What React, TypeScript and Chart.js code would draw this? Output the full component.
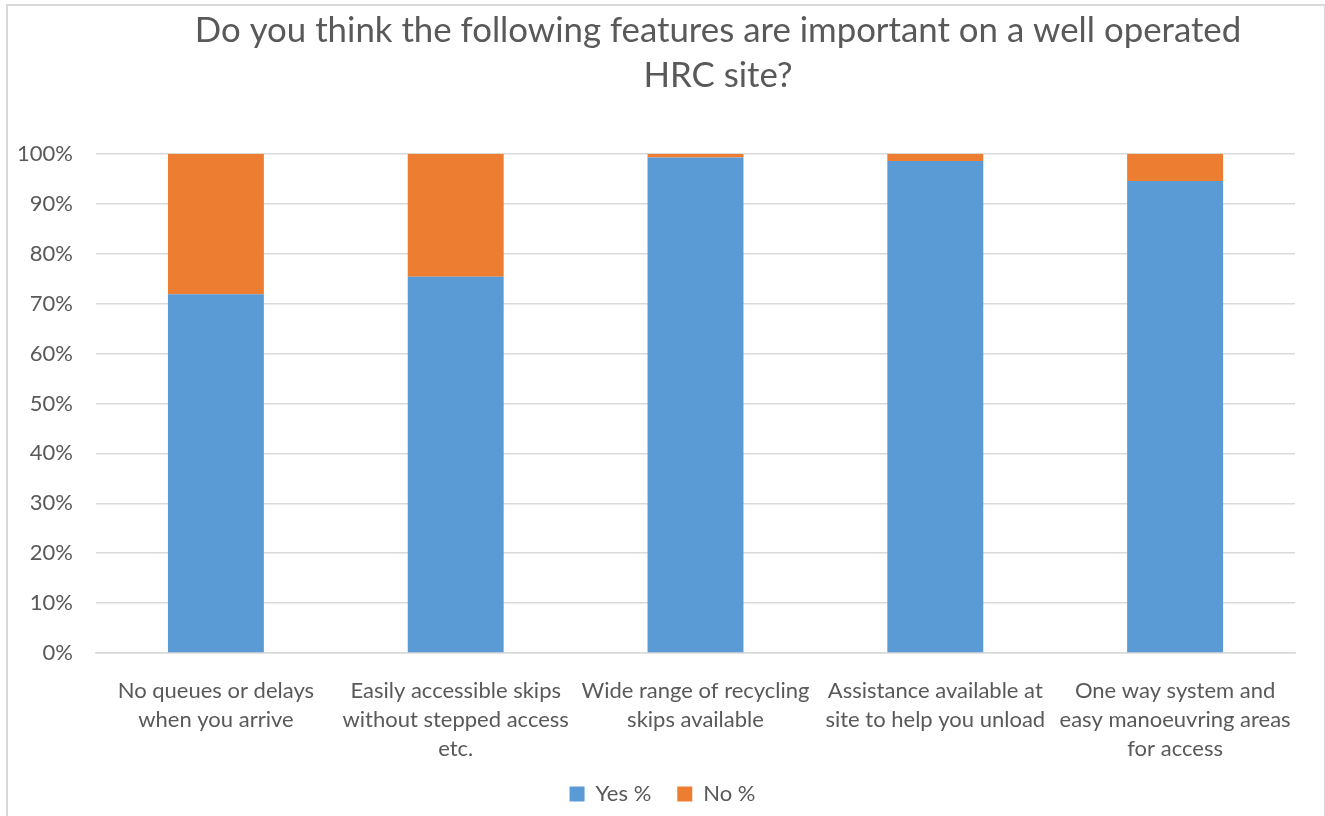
import React, { useEffect, useRef } from "react";
import { Chart, registerables } from "chart.js";

Chart.register(...registerables);

const TITLE_LINES = [
  "Do you think the following features are important on a well operated",
  "HRC site?",
];
const CATEGORIES: string[][] = [
  ["No queues or delays", "when you arrive"],
  ["Easily accessible skips", "without stepped access", "etc."],
  ["Wide range of recycling", "skips available"],
  ["Assistance available at", "site to help you unload"],
  ["One way system and", "easy manoeuvring areas", "for access"],
];
const YES_VALUES = [71.9, 75.4, 99.3, 98.6, 94.6];
const NO_VALUES = [28.1, 24.6, 0.7, 1.4, 5.4];
const SERIES_NAMES = ["Yes %", "No %"];

const FONT = "Lato, 'Open Sans', sans-serif";
const TEXT_COLOR = "#595959";

const titlePlugin = {
  id: "customTitle",
  afterDraw(chart: any) {
    const ctx = chart.ctx;
    ctx.save();
    ctx.fillStyle = TEXT_COLOR;
    ctx.font = `34.8px ${FONT}`;
    ctx.textAlign = "center";
    ctx.textBaseline = "alphabetic";
    ctx.fillText(TITLE_LINES[0], 718, 42);
    ctx.fillText(TITLE_LINES[1], 718, 87);
    ctx.restore();
  },
};

export default function App() {
  const ref = useRef<HTMLCanvasElement>(null);
  useEffect(() => {
    document.body.style.margin = "0";
    const chart = new Chart(ref.current!, {
      type: "bar",
      data: {
        labels: CATEGORIES,
        datasets: [
          {
            label: SERIES_NAMES[0],
            data: YES_VALUES,
            backgroundColor: "#5B9BD5",
            barPercentage: 0.4,
            categoryPercentage: 1,
          },
          {
            label: SERIES_NAMES[1],
            data: NO_VALUES,
            backgroundColor: "#ED7D31",
            barPercentage: 0.4,
            categoryPercentage: 1,
          },
        ],
      },
      options: {
        responsive: false,
        animation: false,
        layout: { padding: { top: 154, left: 17, right: 17, bottom: 1 } },
        plugins: {
          title: { display: false },
          tooltip: { enabled: false },
          legend: {
            position: "bottom",
            labels: {
              boxWidth: 15,
              boxHeight: 15,
              color: TEXT_COLOR,
              font: { family: FONT, size: 22 },
              padding: 26,
            },
          },
        },
        scales: {
          x: {
            stacked: true,
            afterFit(scale: any) {
              scale.height = 104;
            },
            grid: { display: false },
            border: { color: "#d9d9d9", width: 1.5 },
            ticks: {
              color: TEXT_COLOR,
              font: { family: FONT, size: 22, lineHeight: 1.3 },
              padding: 16,
              maxRotation: 0,
              autoSkip: false,
            },
          },
          y: {
            stacked: true,
            min: 0,
            max: 100,
            afterFit(scale: any) {
              scale.width = 79;
            },
            border: { display: false },
            grid: { color: "#d9d9d9", lineWidth: 1.5, drawTicks: false },
            ticks: {
              stepSize: 10,
              color: TEXT_COLOR,
              font: { family: FONT, size: 22 },
              padding: 23,
              callback: (v: any) => `${v}%`,
            },
          },
          spacer: {
            type: "linear",
            position: "right",
            display: true,
            afterFit(scale: any) {
              scale.width = 13;
            },
            grid: { display: false },
            border: { display: false },
            ticks: { display: false },
          },
        },
      },
      plugins: [titlePlugin],
    });
    return () => chart.destroy();
  }, []);

  return (
    <div style={{ position: "fixed", left: 0, top: 0, width: 1325, height: 816, background: "#fff", overflow: "hidden" }}>
      <canvas ref={ref} width={1325} height={816} style={{ position: "absolute", left: 0, top: 0 }} />
      <div
        style={{
          position: "absolute",
          left: 6,
          top: 4,
          width: 1316,
          height: 830,
          border: "2px solid #d9d9d9",
          pointerEvents: "none",
        }}
      />
    </div>
  );
}
